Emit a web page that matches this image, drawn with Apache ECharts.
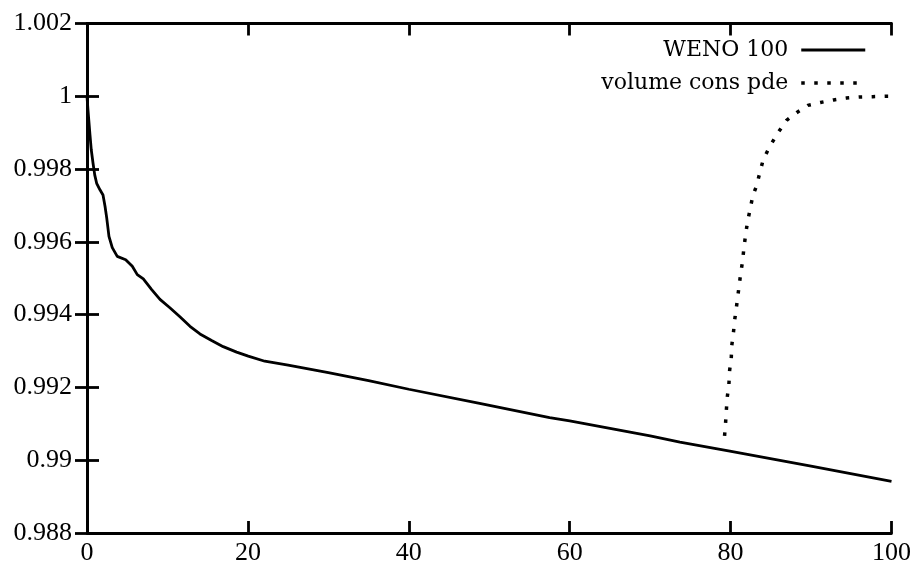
<!DOCTYPE html>
<html>
<head>
<meta charset="utf-8">
<script src="https://cdn.jsdelivr.net/npm/echarts@6/dist/echarts.min.js"></script>
<style>
html,body{margin:0;padding:0;background:#fff;}
#chart{width:914px;height:571px;}
</style>
</head>
<body>
<div id="chart"></div>
<script>
// ---- data ----
var wenoName = 'WENO 100';
var pdeName = 'volume cons pde';
var wenoX = [0, 0.12, 0.25, 0.37, 0.53, 0.75, 0.96, 1.2, 1.61, 1.99, 2.24, 2.45, 2.73, 3.14, 3.76, 4.81, 5.63, 6.25, 7.0, 8.04, 9.07, 10.3, 11.55, 12.8, 14.04, 15.49, 16.93, 18.6, 20.04, 22.1, 25, 30, 35, 40, 48.8, 57.5, 60, 70, 73.7, 79.9, 90, 100];
var wenoY = [1.0, 0.99963, 0.99927, 0.99894, 0.99853, 0.99816, 0.99784, 0.99761, 0.99743, 0.99729, 0.99698, 0.99666, 0.99615, 0.99584, 0.9956, 0.99551, 0.99533, 0.9951, 0.99498, 0.99469, 0.99442, 0.99419, 0.99394, 0.99368, 0.99347, 0.99329, 0.99312, 0.99297, 0.99286, 0.99272, 0.99261, 0.99241, 0.99219, 0.99195, 0.99156, 0.99117, 0.99108, 0.99067, 0.9905, 0.99025, 0.98984, 0.98942];
var pdeX = [79.25, 79.38, 79.47, 79.59, 79.79, 79.88, 80.09, 80.12, 80.34, 80.5, 80.71, 80.91, 81.24, 81.49, 81.65, 81.86, 82.11, 82.45, 82.77, 83.23, 83.64, 84.06, 84.84, 85.96, 86.96, 88.2, 89.6, 91.18, 92.8, 94.37, 96.02, 97.67, 99.34, 100];
var pdeY = [0.99067, 0.99104, 0.99137, 0.99174, 0.99209, 0.99247, 0.99283, 0.99311, 0.99348, 0.99384, 0.99418, 0.99453, 0.99511, 0.99547, 0.99582, 0.99619, 0.99656, 0.99692, 0.99728, 0.99754, 0.99791, 0.99826, 0.99861, 0.99902, 0.99934, 0.99955, 0.99975, 0.99983, 0.9999, 0.99995, 0.99998, 0.99999, 1.0, 1.0];
var xMin = 0, xMax = 100, xStep = 20;
var yMin = 0.988, yMax = 1.002, yStep = 0.002;

function zip(a, b) { return a.map(function (v, i) { return [v, b[i]]; }); }

var chart = echarts.init(document.getElementById('chart'), null, {renderer: 'canvas'});
var font = 'Liberation Serif';
var solidStyle = {color: '#000', width: 2.8};
var dotStyle = {color: '#000', width: 3.5, type: [3.5, 9.5], cap: 'butt'};
var axisCommon = {
  type: 'value',
  axisLine: {show: true, lineStyle: {color: '#000', width: 2.8}},
  axisTick: {show: true, inside: true, length: 12, lineStyle: {color: '#000', width: 2.8}},
  splitLine: {show: false}
};
function fmtY(v) { return parseFloat(v.toFixed(3)).toString(); }

chart.setOption({
  animation: false,
  backgroundColor: '#fff',
  grid: {left: 87, right: 22.5, top: 23.5, bottom: 38, show: false, containLabel: false, outerBoundsMode: 'none'},
  legend: {
    show: true,
    orient: 'vertical',
    align: 'right',
    right: 42,
    top: 34,
    itemWidth: 64,
    itemHeight: 14,
    itemGap: 11,
    itemStyle: {opacity: 0},
    textStyle: {fontFamily: 'DejaVu Serif', fontSize: 22, color: '#000', padding: [0, 8, 0, 0]},
    data: [
      {name: wenoName, lineStyle: solidStyle},
      {name: pdeName, lineStyle: dotStyle}
    ]
  },
  xAxis: [
    Object.assign({}, axisCommon, {
      position: 'bottom', min: xMin, max: xMax, interval: xStep,
      axisLabel: {show: true, margin: 7, fontFamily: font, fontSize: 26, color: '#000'}
    }),
    Object.assign({}, axisCommon, {
      position: 'top', min: xMin, max: xMax, interval: xStep,
      axisLabel: {show: false}
    })
  ],
  yAxis: [
    Object.assign({}, axisCommon, {
      position: 'left', min: yMin, max: yMax, interval: yStep,
      axisLabel: {show: true, margin: 15, fontFamily: font, fontSize: 26, color: '#000', formatter: fmtY}
    }),
    Object.assign({}, axisCommon, {
      position: 'right', min: yMin, max: yMax, interval: yStep,
      axisLabel: {show: false}
    })
  ],
  series: [
    {
      name: wenoName,
      type: 'line',
      xAxisIndex: 0, yAxisIndex: 0,
      data: zip(wenoX, wenoY),
      symbol: 'none',
      showSymbol: false,
      smooth: false,
      lineStyle: solidStyle,
      itemStyle: {color: '#000'},
      z: 3
    },
    {
      name: pdeName,
      type: 'line',
      xAxisIndex: 0, yAxisIndex: 0,
      data: zip(pdeX, pdeY),
      symbol: 'none',
      showSymbol: false,
      smooth: false,
      lineStyle: dotStyle,
      itemStyle: {color: '#000'},
      z: 3
    }
  ]
});
</script>
</body>
</html>
